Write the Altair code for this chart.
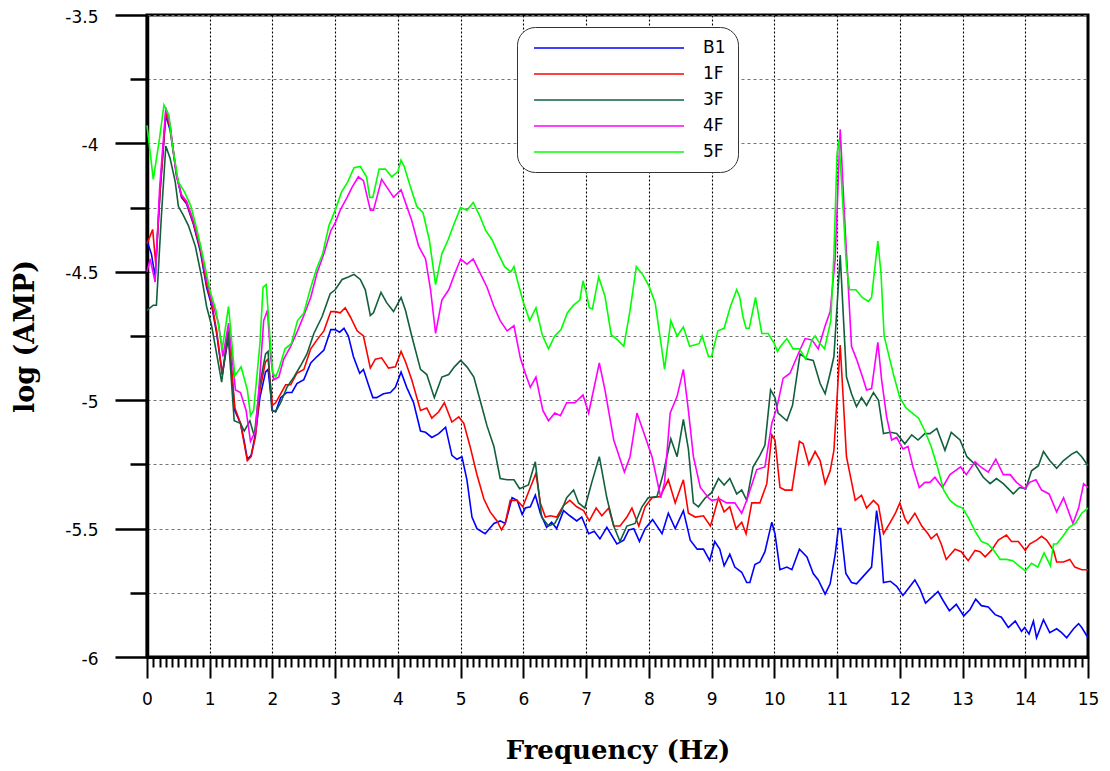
import altair as alt
import pandas as pd

series_names = ["B1", "1F", "3F", "4F", "5F"]
series_colors = ["#0000ff", "#ff0000", "#11603c", "#ff00ff", "#00ff00"]

# ---- B1 ----
b1_freq = [0.0, 0.07, 0.13, 0.21, 0.3, 0.37, 0.47, 0.55, 0.63, 0.74, 0.85, 0.95, 1.03, 1.11, 1.2, 1.3, 1.4, 1.49, 1.55, 1.6, 1.66, 1.73, 1.8, 1.89, 1.93, 2.0, 2.05, 2.13, 2.23, 2.31, 2.39, 2.5, 2.61, 2.71, 2.82, 2.93, 3.0, 3.07, 3.14, 3.21, 3.29, 3.39, 3.45, 3.53, 3.6, 3.66, 3.77, 3.88, 3.96, 4.05, 4.14, 4.25, 4.36, 4.44, 4.54, 4.65, 4.76, 4.86, 4.94, 5.02, 5.1, 5.18, 5.26, 5.39, 5.53, 5.63, 5.71, 5.82, 5.9, 5.98, 6.03, 6.11, 6.19, 6.27, 6.37, 6.45, 6.53, 6.64, 6.74, 6.85, 6.93, 7.04, 7.13, 7.22, 7.33, 7.49, 7.6, 7.68, 7.76, 7.85, 7.94, 8.06, 8.21, 8.31, 8.42, 8.55, 8.66, 8.77, 8.87, 8.97, 9.05, 9.13, 9.2, 9.29, 9.37, 9.48, 9.56, 9.61, 9.69, 9.77, 9.85, 9.96, 10.01, 10.09, 10.2, 10.28, 10.4, 10.52, 10.62, 10.7, 10.81, 10.89, 10.97, 11.02, 11.06, 11.14, 11.23, 11.31, 11.42, 11.55, 11.63, 11.69, 11.74, 11.85, 11.95, 12.05, 12.13, 12.24, 12.32, 12.41, 12.5, 12.61, 12.69, 12.79, 12.9, 13.02, 13.12, 13.21, 13.3, 13.41, 13.52, 13.62, 13.73, 13.84, 13.94, 13.99, 14.06, 14.13, 14.18, 14.29, 14.39, 14.5, 14.58, 14.66, 14.77, 14.85, 14.9, 15.0]
b1_amp = [-4.38, -4.43, -4.52, -4.18, -3.89, -3.95, -4.12, -4.21, -4.235, -4.315, -4.42, -4.56, -4.63, -4.74, -4.9, -4.75, -5.04, -5.09, -5.16, -5.23, -5.215, -5.13, -4.99, -4.89, -4.88, -5.04, -5.045, -4.99, -4.97, -4.97, -4.935, -4.92, -4.855, -4.83, -4.805, -4.725, -4.725, -4.735, -4.72, -4.75, -4.83, -4.895, -4.88, -4.94, -4.99, -4.99, -4.975, -4.97, -4.95, -4.89, -4.95, -5.01, -5.12, -5.125, -5.145, -5.13, -5.105, -5.215, -5.23, -5.22, -5.31, -5.455, -5.5, -5.52, -5.48, -5.47, -5.48, -5.38, -5.39, -5.445, -5.42, -5.415, -5.37, -5.44, -5.495, -5.475, -5.5, -5.43, -5.45, -5.47, -5.455, -5.52, -5.51, -5.54, -5.495, -5.56, -5.545, -5.505, -5.5, -5.55, -5.5, -5.465, -5.52, -5.44, -5.5, -5.43, -5.545, -5.58, -5.58, -5.625, -5.55, -5.58, -5.645, -5.6, -5.65, -5.67, -5.71, -5.71, -5.64, -5.63, -5.59, -5.475, -5.52, -5.66, -5.65, -5.66, -5.58, -5.61, -5.675, -5.7, -5.755, -5.715, -5.6, -5.5, -5.5, -5.675, -5.71, -5.715, -5.685, -5.65, -5.43, -5.535, -5.71, -5.705, -5.725, -5.76, -5.735, -5.7, -5.735, -5.79, -5.77, -5.745, -5.78, -5.82, -5.795, -5.84, -5.815, -5.775, -5.8, -5.805, -5.835, -5.845, -5.885, -5.86, -5.9, -5.885, -5.91, -5.86, -5.925, -5.855, -5.905, -5.89, -5.905, -5.925, -5.89, -5.87, -5.885, -5.925]

# ---- 1F ----
f1_freq = [0.0, 0.05, 0.09, 0.14, 0.21, 0.3, 0.37, 0.47, 0.55, 0.63, 0.74, 0.85, 0.95, 1.03, 1.11, 1.2, 1.3, 1.4, 1.49, 1.55, 1.6, 1.66, 1.73, 1.8, 1.89, 1.93, 2.0, 2.05, 2.13, 2.21, 2.29, 2.39, 2.5, 2.61, 2.71, 2.82, 2.93, 3.0, 3.08, 3.16, 3.24, 3.35, 3.45, 3.56, 3.64, 3.74, 3.85, 3.96, 4.05, 4.12, 4.22, 4.36, 4.46, 4.54, 4.65, 4.74, 4.86, 4.97, 5.05, 5.15, 5.26, 5.37, 5.47, 5.58, 5.65, 5.71, 5.79, 5.9, 5.99, 6.11, 6.2, 6.27, 6.35, 6.43, 6.53, 6.64, 6.74, 6.85, 6.96, 7.05, 7.16, 7.25, 7.36, 7.44, 7.54, 7.65, 7.73, 7.84, 7.94, 8.05, 8.18, 8.31, 8.42, 8.55, 8.63, 8.74, 8.87, 8.98, 9.03, 9.11, 9.2, 9.29, 9.39, 9.48, 9.55, 9.64, 9.77, 9.88, 9.96, 10.01, 10.09, 10.17, 10.28, 10.4, 10.46, 10.55, 10.65, 10.73, 10.81, 10.89, 10.95, 11.05, 11.15, 11.29, 11.39, 11.47, 11.58, 11.66, 11.74, 11.85, 11.93, 12.0, 12.08, 12.13, 12.24, 12.35, 12.45, 12.5, 12.59, 12.66, 12.74, 12.88, 12.98, 13.09, 13.2, 13.28, 13.36, 13.46, 13.57, 13.7, 13.78, 13.89, 14.0, 14.07, 14.18, 14.26, 14.34, 14.45, 14.5, 14.61, 14.71, 14.79, 14.9, 15.0]
f1_amp = [-4.39, -4.36, -4.335, -4.47, -4.18, -3.88, -3.94, -4.12, -4.205, -4.23, -4.31, -4.41, -4.55, -4.62, -4.73, -4.9, -4.73, -5.03, -5.09, -5.17, -5.235, -5.22, -5.14, -4.96, -4.85, -4.84, -5.02, -5.01, -4.975, -4.94, -4.94, -4.895, -4.88, -4.8, -4.765, -4.73, -4.655, -4.655, -4.66, -4.64, -4.675, -4.73, -4.75, -4.875, -4.84, -4.835, -4.875, -4.87, -4.81, -4.85, -4.92, -5.04, -5.03, -5.07, -5.045, -5.01, -5.085, -5.065, -5.09, -5.18, -5.29, -5.385, -5.435, -5.47, -5.505, -5.48, -5.39, -5.39, -5.415, -5.34, -5.285, -5.4, -5.455, -5.45, -5.455, -5.41, -5.39, -5.415, -5.43, -5.47, -5.42, -5.45, -5.42, -5.49, -5.49, -5.455, -5.42, -5.49, -5.415, -5.38, -5.375, -5.31, -5.4, -5.31, -5.44, -5.455, -5.45, -5.49, -5.45, -5.38, -5.435, -5.415, -5.5, -5.475, -5.52, -5.4, -5.4, -5.325, -5.135, -5.155, -5.34, -5.35, -5.35, -5.16, -5.17, -5.25, -5.2, -5.235, -5.325, -5.275, -5.195, -4.785, -5.22, -5.39, -5.37, -5.42, -5.39, -5.41, -5.52, -5.475, -5.44, -5.4, -5.46, -5.48, -5.44, -5.49, -5.52, -5.54, -5.52, -5.56, -5.62, -5.58, -5.59, -5.625, -5.585, -5.59, -5.61, -5.585, -5.545, -5.525, -5.55, -5.55, -5.585, -5.56, -5.545, -5.53, -5.545, -5.585, -5.63, -5.63, -5.62, -5.65, -5.66, -5.66]

# ---- 3F ----
f3_freq = [0.0, 0.1, 0.15, 0.23, 0.3, 0.37, 0.45, 0.5, 0.58, 0.66, 0.77, 0.87, 0.95, 1.03, 1.11, 1.19, 1.29, 1.39, 1.49, 1.55, 1.64, 1.71, 1.8, 1.89, 1.93, 1.99, 2.05, 2.13, 2.23, 2.34, 2.45, 2.55, 2.66, 2.79, 2.92, 3.0, 3.11, 3.21, 3.3, 3.4, 3.48, 3.56, 3.61, 3.73, 3.82, 3.93, 4.05, 4.12, 4.22, 4.36, 4.46, 4.58, 4.7, 4.81, 4.9, 5.0, 5.1, 5.21, 5.31, 5.42, 5.53, 5.63, 5.74, 5.85, 5.94, 6.08, 6.19, 6.29, 6.4, 6.5, 6.59, 6.69, 6.8, 6.88, 6.98, 7.09, 7.21, 7.33, 7.44, 7.54, 7.65, 7.78, 7.89, 7.99, 8.13, 8.23, 8.35, 8.45, 8.55, 8.63, 8.71, 8.79, 8.9, 9.0, 9.11, 9.2, 9.29, 9.4, 9.48, 9.56, 9.66, 9.77, 9.85, 9.94, 10.01, 10.06, 10.2, 10.29, 10.41, 10.52, 10.62, 10.73, 10.81, 10.89, 10.95, 11.05, 11.15, 11.23, 11.31, 11.39, 11.47, 11.58, 11.66, 11.74, 11.85, 11.95, 12.08, 12.19, 12.29, 12.4, 12.48, 12.59, 12.72, 12.82, 12.96, 13.07, 13.2, 13.33, 13.44, 13.54, 13.65, 13.81, 13.91, 14.01, 14.1, 14.21, 14.29, 14.39, 14.5, 14.61, 14.74, 14.82, 14.9, 15.0]
f3_amp = [-4.65, -4.63, -4.63, -4.28, -4.01, -4.06, -4.15, -4.245, -4.28, -4.32, -4.4, -4.52, -4.635, -4.71, -4.82, -4.93, -4.73, -5.08, -5.09, -5.12, -5.08, -5.14, -4.935, -4.82, -4.81, -5.04, -5.045, -5.01, -4.95, -4.91, -4.865, -4.82, -4.74, -4.675, -4.585, -4.57, -4.53, -4.52, -4.51, -4.53, -4.57, -4.67, -4.66, -4.58, -4.62, -4.655, -4.6, -4.65, -4.75, -4.88, -4.9, -4.99, -4.91, -4.9, -4.87, -4.845, -4.87, -4.91, -5.0, -5.1, -5.18, -5.305, -5.31, -5.31, -5.345, -5.33, -5.24, -5.455, -5.49, -5.48, -5.44, -5.38, -5.35, -5.4, -5.42, -5.32, -5.22, -5.38, -5.49, -5.55, -5.49, -5.48, -5.415, -5.38, -5.375, -5.285, -5.15, -5.22, -5.075, -5.19, -5.4, -5.415, -5.38, -5.36, -5.305, -5.33, -5.305, -5.365, -5.35, -5.39, -5.26, -5.215, -5.175, -4.96, -4.99, -5.05, -5.08, -5.02, -4.82, -4.84, -4.845, -4.935, -4.975, -4.895, -4.83, -4.435, -4.91, -4.975, -5.025, -4.99, -5.02, -4.97, -5.0, -5.13, -5.125, -5.13, -5.17, -5.135, -5.155, -5.13, -5.13, -5.11, -5.195, -5.125, -5.155, -5.22, -5.25, -5.3, -5.325, -5.305, -5.325, -5.365, -5.34, -5.345, -5.275, -5.255, -5.2, -5.235, -5.265, -5.235, -5.21, -5.2, -5.22, -5.255]

# ---- 4F ----
f4_freq = [0.0, 0.05, 0.13, 0.2, 0.3, 0.37, 0.47, 0.55, 0.63, 0.74, 0.85, 0.95, 1.03, 1.14, 1.21, 1.3, 1.41, 1.49, 1.58, 1.65, 1.73, 1.8, 1.86, 1.92, 1.97, 2.02, 2.1, 2.18, 2.29, 2.4, 2.5, 2.61, 2.71, 2.82, 2.93, 3.0, 3.08, 3.19, 3.27, 3.37, 3.45, 3.56, 3.61, 3.74, 3.85, 3.93, 4.05, 4.14, 4.22, 4.33, 4.44, 4.52, 4.6, 4.7, 4.81, 4.91, 5.0, 5.1, 5.2, 5.31, 5.42, 5.53, 5.63, 5.74, 5.85, 5.95, 6.03, 6.11, 6.2, 6.31, 6.4, 6.5, 6.59, 6.69, 6.82, 6.95, 7.04, 7.21, 7.3, 7.44, 7.61, 7.7, 7.81, 7.91, 8.05, 8.19, 8.25, 8.34, 8.45, 8.55, 8.63, 8.71, 8.82, 8.95, 9.0, 9.13, 9.24, 9.37, 9.48, 9.56, 9.72, 9.85, 9.96, 10.04, 10.14, 10.25, 10.38, 10.49, 10.6, 10.7, 10.81, 10.89, 10.97, 11.05, 11.13, 11.23, 11.31, 11.42, 11.47, 11.55, 11.65, 11.71, 11.79, 11.87, 11.95, 12.05, 12.13, 12.21, 12.31, 12.4, 12.48, 12.56, 12.68, 12.8, 12.97, 13.06, 13.2, 13.29, 13.41, 13.53, 13.65, 13.76, 13.86, 13.99, 14.07, 14.17, 14.26, 14.38, 14.5, 14.61, 14.76, 14.85, 14.93, 15.0]
f4_amp = [-4.5, -4.45, -4.54, -4.18, -3.86, -3.93, -4.13, -4.2, -4.225, -4.3, -4.4, -4.53, -4.61, -4.7, -4.83, -4.7, -4.96, -4.97, -5.04, -5.16, -5.12, -4.9, -4.69, -4.65, -4.83, -4.92, -4.91, -4.84, -4.79, -4.73, -4.67, -4.6, -4.505, -4.43, -4.34, -4.31, -4.26, -4.21, -4.17, -4.13, -4.145, -4.26, -4.26, -4.14, -4.18, -4.21, -4.18, -4.245, -4.3, -4.4, -4.45, -4.57, -4.74, -4.61, -4.57, -4.505, -4.45, -4.47, -4.45, -4.505, -4.56, -4.635, -4.69, -4.73, -4.71, -4.835, -4.895, -4.95, -4.91, -5.04, -5.08, -5.05, -5.06, -5.01, -5.01, -4.98, -5.05, -4.855, -4.96, -5.155, -5.28, -5.22, -5.05, -5.12, -5.22, -5.38, -5.32, -5.05, -4.985, -4.88, -5.04, -5.22, -5.34, -5.38, -5.39, -5.385, -5.4, -5.4, -5.44, -5.39, -5.27, -5.26, -5.09, -5.03, -4.915, -4.895, -4.82, -4.76, -4.765, -4.8, -4.71, -4.655, -4.45, -3.945, -4.335, -4.79, -4.84, -4.92, -4.96, -4.955, -4.775, -4.92, -5.065, -5.155, -5.145, -5.19, -5.18, -5.26, -5.34, -5.32, -5.32, -5.3, -5.34, -5.29, -5.26, -5.29, -5.24, -5.26, -5.28, -5.23, -5.29, -5.29, -5.32, -5.345, -5.32, -5.31, -5.35, -5.365, -5.435, -5.38, -5.48, -5.42, -5.325, -5.34]

# ---- 5F ----
f5_freq = [0.0, 0.1, 0.2, 0.27, 0.35, 0.4, 0.5, 0.6, 0.7, 0.8, 0.9, 1.0, 1.1, 1.2, 1.3, 1.4, 1.5, 1.6, 1.65, 1.7, 1.8, 1.85, 1.9, 2.0, 2.05, 2.1, 2.2, 2.3, 2.4, 2.5, 2.6, 2.7, 2.8, 2.9, 3.0, 3.1, 3.2, 3.3, 3.4, 3.5, 3.55, 3.6, 3.7, 3.8, 3.9, 4.0, 4.05, 4.1, 4.2, 4.3, 4.4, 4.5, 4.6, 4.7, 4.8, 4.9, 5.0, 5.1, 5.2, 5.3, 5.4, 5.5, 5.6, 5.7, 5.8, 5.85, 5.9, 6.0, 6.1, 6.2, 6.3, 6.4, 6.5, 6.6, 6.7, 6.8, 6.9, 6.95, 7.0, 7.05, 7.1, 7.2, 7.3, 7.4, 7.5, 7.6, 7.7, 7.8, 7.9, 8.0, 8.1, 8.2, 8.25, 8.35, 8.45, 8.55, 8.65, 8.8, 8.85, 8.95, 9.0, 9.1, 9.2, 9.3, 9.4, 9.45, 9.5, 9.55, 9.6, 9.7, 9.8, 9.9, 10.0, 10.05, 10.1, 10.2, 10.3, 10.4, 10.5, 10.6, 10.65, 10.7, 10.8, 10.9, 10.95, 11.0, 11.03, 11.1, 11.15, 11.2, 11.3, 11.4, 11.5, 11.55, 11.65, 11.7, 11.75, 11.8, 11.9, 12.0, 12.1, 12.2, 12.3, 12.4, 12.5, 12.6, 12.7, 12.8, 12.9, 13.0, 13.1, 13.2, 13.3, 13.4, 13.5, 13.6, 13.7, 13.8, 13.9, 14.0, 14.1, 14.2, 14.3, 14.4, 14.45, 14.5, 14.6, 14.7, 14.8, 14.9, 15.0]
f5_amp = [-3.93, -4.14, -3.98, -3.85, -3.89, -4.0, -4.15, -4.19, -4.245, -4.34, -4.45, -4.57, -4.65, -4.8, -4.635, -4.905, -4.87, -4.96, -5.06, -5.04, -4.78, -4.56, -4.55, -4.89, -4.91, -4.88, -4.8, -4.78, -4.69, -4.66, -4.57, -4.49, -4.43, -4.32, -4.26, -4.19, -4.15, -4.095, -4.09, -4.13, -4.21, -4.21, -4.1, -4.1, -4.13, -4.11, -4.065, -4.09, -4.17, -4.245, -4.27, -4.375, -4.55, -4.43, -4.375, -4.31, -4.25, -4.26, -4.23, -4.28, -4.34, -4.375, -4.43, -4.48, -4.5, -4.48, -4.53, -4.62, -4.69, -4.64, -4.745, -4.8, -4.75, -4.725, -4.66, -4.63, -4.61, -4.535, -4.58, -4.64, -4.645, -4.52, -4.595, -4.745, -4.765, -4.79, -4.65, -4.48, -4.51, -4.555, -4.62, -4.79, -4.88, -4.69, -4.75, -4.715, -4.79, -4.78, -4.75, -4.83, -4.83, -4.73, -4.72, -4.635, -4.57, -4.6, -4.675, -4.72, -4.72, -4.6, -4.74, -4.74, -4.78, -4.81, -4.79, -4.76, -4.8, -4.8, -4.84, -4.765, -4.75, -4.77, -4.8, -4.69, -4.43, -4.04, -3.985, -4.27, -4.48, -4.57, -4.57, -4.6, -4.615, -4.6, -4.38, -4.505, -4.75, -4.8, -4.9, -4.99, -5.03, -5.05, -5.07, -5.12, -5.18, -5.26, -5.35, -5.39, -5.41, -5.42, -5.46, -5.51, -5.55, -5.56, -5.585, -5.62, -5.62, -5.625, -5.645, -5.665, -5.635, -5.65, -5.595, -5.645, -5.56, -5.56, -5.53, -5.495, -5.48, -5.44, -5.42]

frames = []
for name, fr, am in [("B1", b1_freq, b1_amp), ("1F", f1_freq, f1_amp),
                     ("3F", f3_freq, f3_amp), ("4F", f4_freq, f4_amp),
                     ("5F", f5_freq, f5_amp)]:
    frames.append(pd.DataFrame({"series": name, "freq": fr, "amp": am}))
df = pd.concat(frames, ignore_index=True)

x_ticks = [round(i * 0.1, 1) for i in range(151)]
y_ticks = [round(-6 + 0.25 * i, 2) for i in range(11)]
x_major = "abs(datum.value - round(datum.value)) < 0.001"
y_major = "abs(datum.value * 2 - round(datum.value * 2)) < 0.001"

x_axis = alt.Axis(
    values=x_ticks,
    title="Frequency (Hz)",
    titleFont="DejaVu Serif", titleFontWeight="bold", titleFontSize=26,
    titleColor="black", titlePadding=30,
    labelExpr=f"{x_major} ? '' + round(datum.value) : ''",
    labelFont="DejaVu Sans", labelFontSize=17, labelColor="black",
    labelPadding=13, labelOverlap=False, labelFlush=False,
    tickSize={"condition": {"test": x_major, "value": 21}, "value": 10},
    tickWidth=2, tickColor="black",
    domainColor="black", domainWidth=3,
    grid=True, gridColor="black", gridDash=[2, 2], gridWidth=1.1,
    gridOpacity={"condition": {"test": x_major, "value": 1}, "value": 0},
)

y_axis = alt.Axis(
    values=y_ticks,
    title="log (AMP)",
    titleFont="DejaVu Serif", titleFontWeight="bold", titleFontSize=27,
    titleColor="black", titlePadding=25,
    labelExpr=f"{y_major} ? '' + datum.value : ''",
    labelFont="DejaVu Sans", labelFontSize=17, labelColor="black",
    labelPadding=17, labelOverlap=False, labelFlush=False, labelOffset=2,
    tickSize={"condition": {"test": y_major, "value": 32}, "value": 17},
    tickWidth=2.5, tickColor="black",
    domainColor="black", domainWidth=3.5,
    grid=True, gridColor="#777777", gridDash=[3, 3], gridWidth=1,
)

legend = alt.Legend(
    title=None, orient="none", legendX=370, legendY=12, direction="vertical",
    symbolType="M-0.5,0H18.25", symbolSize=256, symbolStrokeWidth=1.5,
    labelOffset=156, labelFont="DejaVu Sans", labelFontSize=17, labelColor="black",
    rowPadding=9, padding=12, strokeColor="#333333", fillColor="white",
    cornerRadius=18,
)

chart = alt.Chart(df).mark_line(strokeWidth=1.6).encode(
    x=alt.X("freq:Q", scale=alt.Scale(domain=[0, 15], nice=False, zero=False), axis=x_axis),
    y=alt.Y("amp:Q", scale=alt.Scale(domain=[-6, -3.5], nice=False, zero=False), axis=y_axis),
    color=alt.Color("series:N", scale=alt.Scale(domain=series_names, range=series_colors),
                    legend=legend),
).properties(
    width=941, height=642,
    autosize="none",
    padding={"left": 139, "top": 7, "right": 14, "bottom": 110},
    background="white",
).configure_view(stroke="black", strokeWidth=3)

chart.save("out.html", embed_options={"renderer": "svg", "actions": False})
